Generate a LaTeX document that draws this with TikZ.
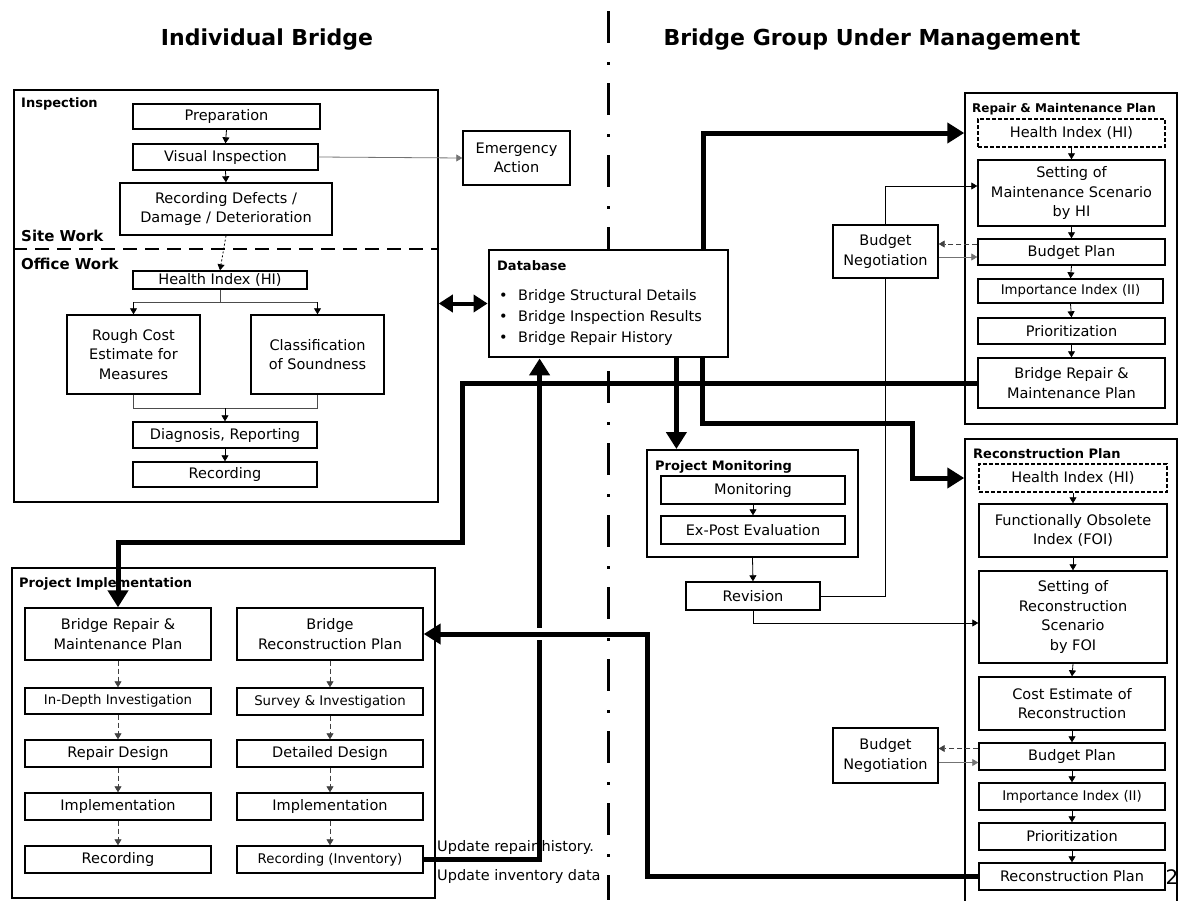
\documentclass[tikz,border=0pt]{standalone}
\usepackage{fontspec}
\setmainfont{DejaVu Sans}
\usetikzlibrary{arrows.meta,calc}

% box from its two corners: [options]{name}{x1}{y1}{x2}{y2}{text}
\newcommand{\mkbox}[7][]{%
  \node[boxstyle,#1,minimum width=#5pt-#3pt,minimum height=#6pt-#4pt]
    (#2) at ({(#3+#5)/2},{(#4+#6)/2}) {#7};}

\tikzset{
  boxstyle/.style={draw,line width=1.4pt,fill=white,inner sep=1pt,align=center,
    font=\fontsize{14.5}{19.5}\selectfont},
  smalltxt/.style={font=\fontsize{13.3}{18}\selectfont},
  groupbox/.style={line width=1.5pt},
  hidash/.style={dash pattern=on 4pt off 2pt},
  grouplabel/.style={anchor=west,inner sep=0pt,font=\bfseries\fontsize{13}{15}\selectfont},
  worklabel/.style={anchor=west,inner sep=0pt,font=\bfseries\fontsize{15}{17}\selectfont},
  titlestyle/.style={inner sep=0pt,font=\bfseries\fontsize{22}{26}\selectfont},
  plaintext/.style={anchor=west,inner sep=0pt,font=\fontsize{14.5}{17}\selectfont},
  sarr/.style={-{Triangle[width=7pt,length=6pt]},line width=0.8pt},
  thinline/.style={line width=0.8pt},
  dsharr/.style={sarr,draw=black!75,dash pattern=on 5pt off 3pt},
  grayarr/.style={sarr,draw=black!55},
  thk/.style={line width=5pt,-{Triangle[width=20pt,length=17pt]}},
  dblarr/.style={line width=4pt,{Triangle[width=17pt,length=14pt]}-{Triangle[width=17pt,length=14pt]}},
  divider/.style={line width=3pt,dash pattern=on 32pt off 19pt on 3pt off 18pt,dash phase=61pt},
  sitedash/.style={line width=2pt,dash pattern=on 14pt off 8pt},
}

\begin{document}
\begin{tikzpicture}[x=1pt,y=-1pt]
\useasboundingbox (0,0) rectangle (1181,900);

% column titles and the dash-dot divider between them
\node[titlestyle] (t1) at (267,40) {Individual Bridge};
\node[titlestyle] (t2) at (872,40) {Bridge Group Under Management};
\draw[divider] (608,0) -- (608,900);

% ---------------- Inspection ----------------
\mkbox[groupbox]{insp}{14}{90}{438}{502}{}
\node[grouplabel] (insplab) at (21,104) {Inspection};
\node[worklabel] (sitelab) at (21,236) {Site Work};
\node[worklabel] (officelab) at (21,264) {Office Work};
\draw[sitedash] ([yshift=-160pt]insp.north west) -- ([yshift=-160pt]insp.north east);

\mkbox{prep}{133}{104}{320}{129}{Preparation}
\mkbox{vis}{133}{144}{318}{170}{Visual Inspection}
\mkbox{rec}{120}{183}{332}{235}{Recording Defects /\\Damage / Deterioration}
\mkbox{hi}{133}{271}{307}{289}{Health Index (HI)}
\mkbox{rough}{67}{315}{200}{394}{Rough Cost\\Estimate for\\Measures}
\mkbox{cls}{251}{315}{384}{394}{Classification\\of Soundness}
\mkbox{diag}{133}{422}{317}{448}{Diagnosis, Reporting}
\mkbox{recd}{133}{462}{317}{487}{Recording}
\mkbox{emer}{463}{131}{570}{185}{Emergency\\Action}

% ---------------- Database ----------------
\mkbox[line width=2.8pt]{db}{489}{250}{728}{357}{}
\node[grouplabel] (dblab) at (497,266) {Database};
\node[plaintext,anchor=base west] (dbl1) at (499,300) {\makebox[19pt][l]{•}Bridge Structural Details};
\node[plaintext,anchor=base west] (dbl2) at (499,321) {\makebox[19pt][l]{•}Bridge Inspection Results};
\node[plaintext,anchor=base west] (dbl3) at (499,342) {\makebox[19pt][l]{•}Bridge Repair History};

% ---------------- Repair & Maintenance Plan ----------------
\mkbox[groupbox]{rm}{965}{93}{1177}{424}{}
\node[grouplabel,font=\bfseries\fontsize{12}{14}\selectfont] (rmlab) at (972,109) {Repair \& Maintenance Plan};
\mkbox[hidash]{rmhi}{978}{119}{1165}{147}{Health Index (HI)}
\mkbox{setm}{978}{160}{1165}{226}{Setting of\\Maintenance Scenario\\by HI}
\mkbox{bp1}{978}{239}{1165}{265}{Budget Plan}
\mkbox[smalltxt]{ii1}{978}{279}{1163}{303}{Importance Index (II)}
\mkbox{pr1}{978}{318}{1165}{344}{Prioritization}
\mkbox{rmplan}{978}{358}{1165}{408}{Bridge Repair \&\\Maintenance Plan}
\mkbox{bn1}{833}{225}{938}{278}{Budget\\Negotiation}

% ---------------- Reconstruction Plan ----------------
\mkbox[groupbox]{rc}{965}{439}{1177}{906}{}
\node[grouplabel] (rclab) at (973,454) {Reconstruction Plan};
\mkbox[hidash]{rchi}{979}{464}{1167}{492}{Health Index (HI)}
\mkbox{foi}{979}{504}{1167}{557}{Functionally Obsolete\\Index (FOI)}
\mkbox{setr}{979}{571}{1167}{663}{Setting of\\Reconstruction\\Scenario\\by FOI}
\mkbox{cost}{979}{677}{1165}{730}{Cost Estimate of\\Reconstruction}
\mkbox{bp2}{979}{743}{1165}{770}{Budget Plan}
\mkbox[smalltxt]{ii2}{979}{783}{1165}{810}{Importance Index (II)}
\mkbox{pr2}{979}{823}{1165}{850}{Prioritization}
\mkbox{rcplan}{979}{863}{1165}{890}{Reconstruction Plan}
\mkbox{bn2}{833}{728}{938}{783}{Budget\\Negotiation}

% ---------------- Project Monitoring ----------------
\mkbox[line width=2pt]{pm}{647}{450}{858}{557}{}
\node[grouplabel] (pmlab) at (655,467) {Project Monitoring};
\mkbox{mon}{661}{476}{845}{504}{Monitoring}
\mkbox{exp}{661}{516}{845}{544}{Ex-Post Evaluation}
\mkbox{rev}{686}{582}{820}{610}{Revision}

% ---------------- Project Implementation ----------------
\mkbox[groupbox]{pi}{12}{568}{435}{898}{}
\node[grouplabel] (pilab) at (19,584) {Project Implementation};
\mkbox{pirm}{25}{608}{211}{660}{Bridge Repair \&\\Maintenance Plan}
\mkbox[smalltxt]{pa1}{25}{688}{211}{714}{In-Depth Investigation}
\mkbox{pa2}{25}{740}{211}{767}{Repair Design}
\mkbox{pa3}{25}{793}{211}{820}{Implementation}
\mkbox{pa4}{25}{846}{211}{873}{Recording}
\mkbox{pirc}{237}{608}{423}{660}{Bridge\\Reconstruction Plan}
\mkbox[smalltxt]{pb1}{237}{688}{423}{715}{Survey \& Investigation}
\mkbox{pb2}{237}{740}{423}{767}{Detailed Design}
\mkbox{pb3}{237}{793}{423}{820}{Implementation}
\mkbox[smalltxt]{pb4}{237}{846}{423}{873}{Recording (Inventory)}

\node[plaintext] (upd1) at (437,847) {Update repair history.};
\node[plaintext] (upd2) at (437,876) {Update inventory data};
\node[inner sep=0pt,font=\fontsize{20}{24}\selectfont] (pgno) at (1172,877) {2};

% ---------------- thin connectors ----------------
\draw[sarr] (prep.south) -- (vis.north);
\draw[sarr] (vis.south) -- (rec.north);
\draw[sarr,dash pattern=on 2pt off 2pt] (rec.south) -- (hi.north);
\draw[grayarr] (vis.east) -- (emer.west);

\coordinate (split) at (227,302);
\coordinate (merge) at (226,408);
\draw[thinline,draw=black!70] (hi.south) -- (hi.south |- split);
\draw[thinline,draw=black!70] (rough.north |- split) -- (cls.north |- split);
\draw[sarr] (rough.north |- split) -- (rough.north);
\draw[sarr] (cls.north |- split) -- (cls.north);
\draw[thinline,draw=black!70] (rough.south) -- (rough.south |- merge) -- (cls.south |- merge) -- (cls.south);
\draw[sarr] (diag.north |- merge) -- (diag.north);
\draw[sarr] (diag.south) -- (recd.north);

\foreach \a/\b in {rmhi/setm,setm/bp1,bp1/ii1,ii1/pr1,pr1/rmplan,
                   rchi/foi,foi/setr,setr/cost,cost/bp2,bp2/ii2,ii2/pr2,pr2/rcplan,
                   mon/exp}
  \draw[sarr] (\a.south) -- (\b.north);
\foreach \a/\b in {pirm/pa1,pa1/pa2,pa2/pa3,pa3/pa4,pirc/pb1,pb1/pb2,pb2/pb3,pb3/pb4}
  \draw[dsharr] (\a.south) -- (\b.north);

\draw[dsharr] ([yshift=8pt]bp1.west) -- ([yshift=8pt]bp1.west -| bn1.east);
\draw[grayarr] ([yshift=-5pt]bp1.west -| bn1.east) -- ([yshift=-5pt]bp1.west);
\draw[dsharr] ([yshift=8pt]bp2.west) -- ([yshift=8pt]bp2.west -| bn2.east);
\draw[grayarr] ([yshift=-6pt]bp2.west -| bn2.east) -- ([yshift=-6pt]bp2.west);

\draw[sarr] (pm.south) -- (rev.north);
\draw[thinline] (rev.east) -| (bn1.south);
\draw[sarr] (bn1.north) |- ([yshift=7pt]setm.west);
\draw[sarr] (rev.south) |- ([yshift=-6pt]setr.west);

% ---------------- thick flows ----------------
\draw[dblarr] (db.west -| insp.east) -- (db.west);
\draw[thk] ([xshift=-26pt]db.north east) |- (rmhi.west -| rm.west);
\draw[thk] ([xshift=-53pt]db.south east) -- ([xshift=-53pt]db.south east |- pm.north);
\draw[thk] ([xshift=-27pt]db.south east) |- (912,423) |- (rchi.west -| rc.west);
\draw[thk] (rmplan.west) -| (462,542) -| (pirm.north);
\draw[thk] (pb4.east) -| ([xshift=52pt]db.south west);
\draw[white,line width=12pt] ([xshift=110pt]pirc.east) -- ([xshift=126pt]pirc.east);
\draw[thk] (rcplan.west) -| ([xshift=224pt]pirc.east) -- (pirc.east);
\end{tikzpicture}
\end{document}
